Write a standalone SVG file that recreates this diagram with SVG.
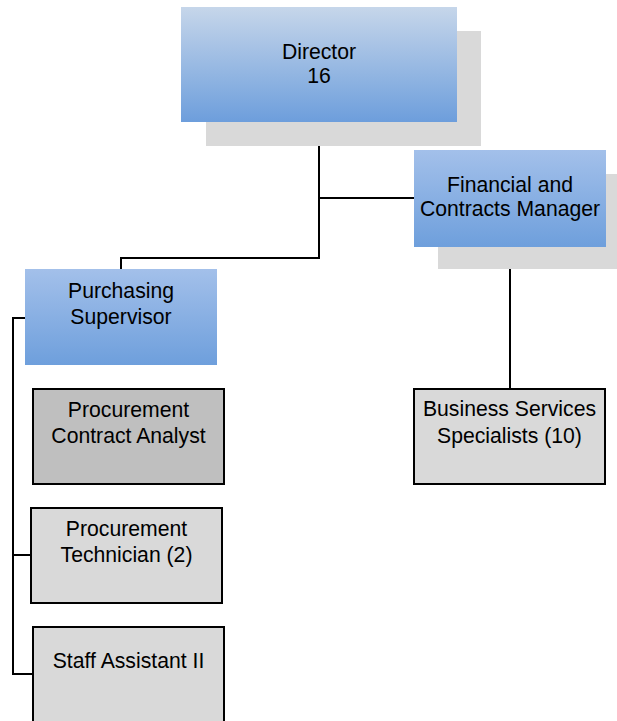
<svg xmlns="http://www.w3.org/2000/svg" width="617" height="721" viewBox="0 0 617 721">
<defs>
<linearGradient id="gBig" x1="0" y1="0" x2="0" y2="1">
<stop offset="0" stop-color="#c6d6ea"/>
<stop offset="1" stop-color="#6d9edc"/>
</linearGradient>
<linearGradient id="gSmall" x1="0" y1="0" x2="0" y2="1">
<stop offset="0" stop-color="#a3c0ea"/>
<stop offset="1" stop-color="#6e9fdc"/>
</linearGradient>
<style>
text{font-family:"Liberation Sans",Arial,sans-serif;font-size:21.2px;fill:#000;text-anchor:middle}
.shadow{fill:#d9d9d9}
.gray{fill:#d9d9d9;stroke:#000;stroke-width:2}
.dark{fill:#bfbfbf;stroke:#000;stroke-width:2}
.conn{fill:none;stroke:#000;stroke-width:2}
</style>
</defs>
<g id="connectors">
<path class="conn" d="M319 122 V258 H121 V269"/>
<path class="conn" d="M319 198 H414"/>
<path class="conn" d="M510 247 V389"/>
<path class="conn" d="M25 318 H13 V674 H33 M13 555 H31"/>
</g>
<g id="director">
<rect class="shadow" x="206" y="31" width="275" height="115"/>
<rect x="181" y="7" width="276" height="115" fill="url(#gBig)"/>
<text x="319" y="59">Director</text>
<text x="319" y="83">16</text>
</g>
<g id="financial">
<rect class="shadow" x="438" y="174" width="179" height="95"/>
<rect x="414" y="150" width="192" height="97" fill="url(#gSmall)"/>
<text x="510" y="192">Financial and</text>
<text x="510" y="216">Contracts Manager</text>
</g>
<g id="purchasing">
<rect x="25" y="269" width="192" height="96" fill="url(#gSmall)"/>
<text x="121" y="298">Purchasing</text>
<text x="121" y="324">Supervisor</text>
</g>
<g id="analyst">
<rect class="dark" x="33" y="389" width="191" height="95"/>
<text x="128.5" y="416.5">Procurement</text>
<text x="128.5" y="442.5">Contract Analyst</text>
</g>
<g id="technician">
<rect class="gray" x="31" y="508" width="191" height="95"/>
<text x="126.5" y="536">Procurement</text>
<text x="126.5" y="561.5">Technician (2)</text>
</g>
<g id="staff">
<rect class="gray" x="33" y="627" width="191" height="100"/>
<text x="128.5" y="668">Staff Assistant II</text>
</g>
<g id="business">
<rect class="gray" x="414" y="389" width="191" height="95"/>
<text x="509.5" y="416">Business Services</text>
<text x="509.5" y="442.5">Specialists (10)</text>
</g>
</svg>
